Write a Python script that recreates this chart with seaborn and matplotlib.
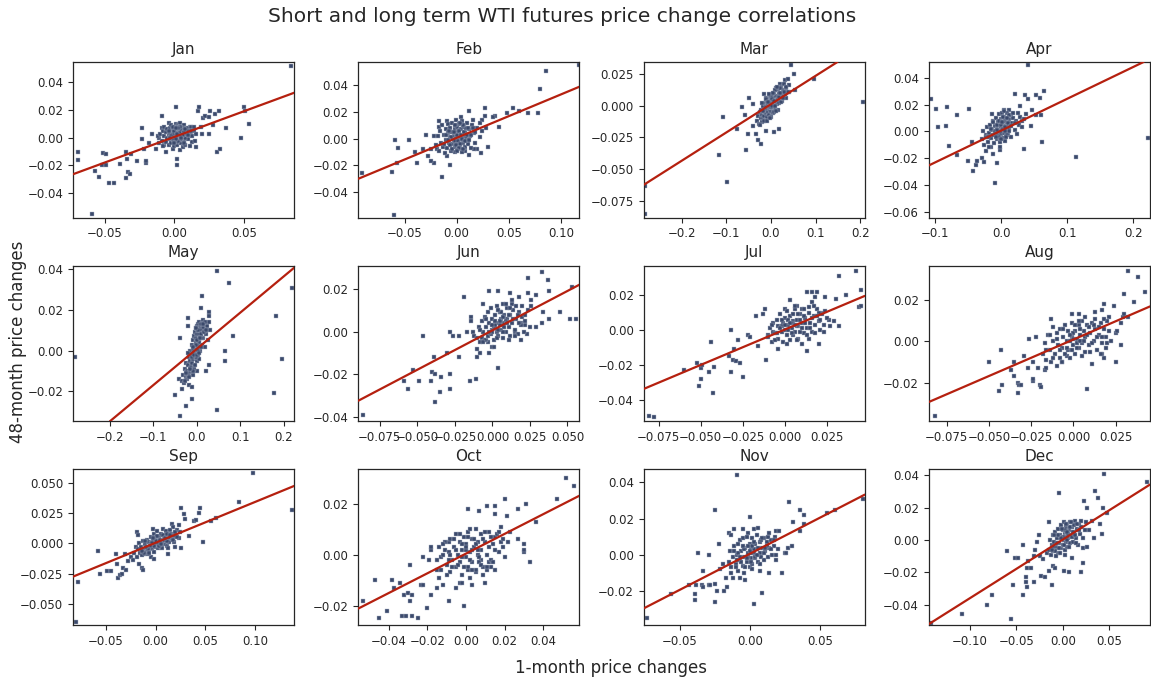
import matplotlib
matplotlib.use("Agg")
import matplotlib.pyplot as plt
import pandas as pd
import seaborn as sns

months = ["Jan", "Feb", "Mar", "Apr", "May", "Jun",
          "Jul", "Aug", "Sep", "Oct", "Nov", "Dec"]

# (1-month change, 48-month change) pairs, in thousandths (0.001)
jan_pts = [
    (84, 52), (-69, -10), (-69, -16), (-59, -55), (-57, -24), (-54, -28), (-51, -11), (-49, -12),
    (-52, -20), (-49, -20), (-47, -33), (-43, -33), (-39, -19), (-35, -29), (-33, -25), (-32, -26),
    (-35, -10), (-34, -15), (-31, -12), (-27, -17), (-23, 7), (-23, -1), (-22, -8), (-20, -18),
    (-20, -17), (-18, -4), (-16, 3), (-13, -8), (-11, 0), (-9, 16), (-9, 7), (-7, -5), (-6, -10),
    (-4, 11), (-1, -8), (1, 22), (2, -20), (2, -15), (4, -9), (8, -5), (11, 8), (13, 5), (16, -7),
    (17, 19), (18, 22), (21, 14), (22, 16), (25, 15), (25, 3), (26, 19), (28, 9), (29, 17),
    (31, -10), (32, 19), (33, -8), (37, 7), (48, 0), (50, 22), (51, 19), (54, 10), (19, 8), (20, 3),
    (13, -3), (12, 2),
    (-12, 1), (-11, -4), (-10, 3), (-9, -2), (-8, 5), (-8, -6), (-7, 1), (-7, 8), (-6, -3), (-6, 4),
    (-5, 0), (-5, 6), (-4, -5), (-4, 2), (-3, 7), (-3, -1), (-2, 4), (-2, -4), (-2, 9), (-1, 1),
    (-1, 6), (0, -2), (0, 3), (0, 8), (0, -6), (1, 0), (1, 5), (1, 10), (1, -3), (2, 2), (2, 7),
    (2, -1), (2, -5), (3, 4), (3, 0), (3, 9), (3, -3), (4, 6), (4, 1), (4, -2), (4, 11), (5, 3),
    (5, -4), (5, 8), (6, 0), (6, 5), (6, -7), (7, 2), (7, 9), (7, -2), (8, 4), (8, -5), (9, 1),
    (9, 7), (10, -1), (10, 5), (11, 3), (11, -6), (12, 8), (13, 1), (14, 5), (15, -2), (-3, 3),
    (1, 2), (3, 2), (5, 1), (-1, -1), (2, 5), (6, 3), (8, 0),
    (0, 1), (1, 4), (2, 0), (3, 6), (4, 2), (5, -1), (6, 7), (-1, 3), (-2, 1), (0, 5), (2, 8),
    (4, 4), (5, 6), (7, 4), (3, -2), (1, -1), (-3, 0), (-4, 5), (6, 2), (8, 6), (9, 3), (10, 2),
    (0, -4), (2, 3), (4, 8), (-1, 8), (7, -4), (3, 7), (5, 0), (1, 7), (12, 5), (14, 8), (16, 3),
]
feb_pts = [
    (117, 55), (86, 51), (80, 37), (78, 19), (68, 19), (60, 21), (54, 23), (48, 19), (41, 9),
    (37, 17), (35, 16), (30, -6), (28, 8), (27, 17), (27, 23), (24, 14), (23, -11), (20, -8),
    (17, -8), (12, 21), (12, -12), (8, -9), (4, 16), (-2, -10), (-6, -20), (-9, -13), (-14, -29),
    (-17, 13), (-19, -8), (-22, -18), (-25, -17), (-27, -13), (-25, -8), (-29, 3), (-32, -8),
    (-38, -18), (-40, -10), (-46, -1), (-56, -7), (-59, -1), (-57, -18), (-62, -25), (-60, -57),
    (-91, -26), (-22, 2), (-17, 9), (-9, 13), (16, 14), (22, 12),
    (-20, -5), (-18, 2), (-17, -9), (-16, 6), (-15, -3), (-14, 10), (-13, -6), (-12, 3), (-11, -11),
    (-10, 7), (-10, -1), (-9, -7), (-8, 4), (-8, 11), (-7, -3), (-6, 1), (-6, 8), (-5, -9), (-5, 5),
    (-4, -4), (-4, 12), (-3, 2), (-3, -1), (-2, 7), (-2, -6), (-1, 4), (-1, 14), (0, -3), (0, 1),
    (0, 9), (1, -8), (1, 5), (2, -1), (2, 11), (3, 3), (3, -5), (4, 7), (4, 0), (5, -10), (5, 13),
    (6, 2), (6, -3), (7, 9), (8, -6), (8, 5), (9, 1), (10, 12), (11, -4), (12, 7), (13, 2),
    (14, -7), (15, 10), (17, 4), (18, -3), (20, 8), (22, 1), (24, 6), (-1, 0), (1, 2), (3, 1), (-2, -2),
    (0, 3), (1, -2), (2, 6), (3, -4), (4, 3), (5, 0), (-1, -5), (-3, 5), (-5, 1), (-6, -5), (7, 5),
    (8, -2), (9, 8), (10, 3), (12, -1), (-8, -1), (-10, 3), (6, 10), (2, -7), (-2, 10), (14, 3),
    (16, 8), (11, 8), (-4, -8), (0, -9), (-12, -4), (18, 5), (6, -8), (-7, 6), (3, 12),
]
mar_pts = [
    (-282, -63), (-282, -85), (206, 3), (45, 32), (52, 25), (97, 21), (54, 12), (-115, -39),
    (-99, -60), (-108, -9), (-76, -18), (-56, -35), (-51, -22), (-58, -7), (-65, -1), (-48, 6),
    (-41, 1), (-39, -16), (-33, -22), (-29, -27), (-23, -30), (-11, -20), (8, -21), (18, -18),
    (31, 20), (38, 21), (20, 17), (12, 14), (35, 6), (41, 11), (-22, -7), (-18, -12), (-16, 9),
    (-30, -12), (-28, -8), (-26, -14), (-25, -5), (-23, -10), (-21, -3), (-20, -13), (-19, -7),
    (-18, 0), (-17, -10), (-16, -4), (-15, -8), (-14, 2), (-13, -5), (-12, -11), (-11, -1),
    (-10, -6), (-9, 3), (-8, -3), (-8, -9), (-7, 1), (-6, -5), (-5, 5), (-5, -2), (-4, -7), (-3, 2),
    (-2, -3), (-2, 7), (-1, 0), (0, -4), (0, 4), (1, 1), (2, -2), (2, 8), (3, 3), (4, -1), (5, 6),
    (6, 1), (7, 10), (8, 3), (9, -2), (10, 7), (11, 4), (12, 12), (13, 1), (14, 8), (15, 5),
    (17, 13), (18, 2), (19, 9), (21, 6), (22, 15), (24, 10), (26, 4), (28, 12), (30, 17), (32, 9),
    (35, 14), (38, 11), (40, 16), (-1, -1), (1, -1), (3, 0),
    (-20, 2), (-25, -15), (-10, 6), (-15, -12), (0, 8), (5, -6), (10, 12), (15, -3), (20, 14),
    (25, 8), (-5, 9), (0, -9), (8, -5), (12, -4), (18, 7), (22, 3), (28, 6), (33, 15), (-12, 5),
    (-8, -12), (5, 10), (-3, -10), (14, 15), (30, 11), (3, 5), (7, 4), (-6, 3), (10, 0), (20, 10),
    (-18, -4),
]
apr_pts = [
    (-107, 24), (-99, 17), (-96, 3), (-84, 4), (-82, 18), (-80, -11), (-67, 12), (-67, -18),
    (-49, 17), (-50, -22), (-44, -8), (-43, -30), (-39, -25), (-37, -22), (-29, -20), (-27, -23),
    (-24, -15), (-23, -3), (-14, 13), (-12, -17), (-10, -39), (-7, -24), (-2, -14), (4, 16),
    (11, 16), (20, 28), (28, 19), (31, 8), (35, -13), (36, 27), (40, 50), (41, 24), (45, 4),
    (46, 16), (52, 27), (58, 25), (61, -8), (65, 30), (60, 12), (53, 12), (113, -19), (222, -5),
    (-30, -6), (-28, 0), (-26, -10), (-24, -4), (-22, 3), (-20, -8), (-19, -1), (-17, 5), (-16, -12),
    (-15, -5), (-14, 1), (-13, 8), (-12, -3), (-11, -9), (-10, 4), (-9, -1), (-8, 10), (-7, -6),
    (-6, 2), (-5, 7), (-5, -3), (-4, 13), (-3, 0), (-2, 5), (-2, -8), (-1, 2), (0, 9), (0, -2),
    (1, 4), (1, 14), (2, -5), (2, 1), (3, 7), (4, -1), (4, 11), (5, 3), (6, -7), (6, 8), (7, 1),
    (8, 14), (9, 5), (10, -3), (11, 9), (12, 2), (14, 12), (15, -4), (16, 6), (18, 10), (20, 1),
    (22, 8), (24, -2), (26, 5), (28, 11), (32, 3), (35, 9), (38, 13), (0, 3), (2, 4), (-1, 0),
    (-10, 0), (-6, 5), (-3, -4), (0, 5), (3, 2), (5, 9), (8, -2), (10, 6), (12, 12), (-8, -4),
    (-4, 8), (0, -6), (2, 11), (6, 3), (9, 10), (14, 4), (17, 14), (-15, 2), (-20, -4), (-12, 7),
    (4, 15), (7, -4), (11, 0), (20, 6), (-2, -12), (-18, -12), (25, 14), (5, 0), (1, 7), (-7, 1),
]
may_pts = [
    (-281, -3), (219, 31), (196, -4), (182, 17), (178, -21), (84, 7), (74, 33), (64, 0), (64, -5),
    (47, 39), (47, -29), (28, -7), (20, -10), (12, 27), (10, 21), (28, 19), (29, 17), (-21, 16),
    (-21, 12), (-38, 6), (-51, -22), (-41, -14), (-38, -32), (-26, -27), (-12, -24), (-34, -19),
    (-18, -17), (-11, -18), (1, -10),
    (-35, -15), (-32, -12), (-30, -16), (-28, -9), (-26, -13), (-25, -6), (-23, -10), (-22, -14),
    (-20, -7), (-19, -3), (-18, -11), (-16, -5), (-15, 0), (-14, -8), (-13, -2), (-12, 3),
    (-11, -6), (-10, 1), (-9, -4), (-8, 5), (-7, -1), (-6, 7), (-5, 2), (-5, -3), (-4, 9), (-3, 4),
    (-2, -1), (-2, 11), (-1, 6), (0, 1), (0, 12), (1, 8), (2, 3), (2, 13), (3, -2), (4, 10), (5, 5),
    (6, 14), (7, 0), (8, 11), (9, 7), (10, 13), (11, 3), (12, 9), (14, 15), (15, 6), (17, 11),
    (18, 2), (20, 13), (22, 8), (24, 12), (26, 5), (28, 14), (30, 10), (-10, -12), (-6, -9),
    (0, -5), (4, -4), (-20, -1),
    (-8, -10), (-4, -7), (-1, -3), (3, 0), (6, 4), (9, 2), (12, 6), (15, 11), (18, 14), (-12, -3),
    (-15, -9), (-20, -12), (-3, 3), (1, 5), (4, 8), (7, 10), (10, 8), (13, 13), (-6, -2), (-9, 2),
    (0, -2), (5, -1), (8, 6), (16, 9), (21, 10), (-17, -13), (-24, -11), (-28, -15), (2, 10), (-1, 11),
]
jun_pts = [
    (-86, -39), (-59, -23), (-56, -27), (-53, -18), (-49, -23), (-46, -2), (-41, -23), (-40, -19),
    (-39, -12), (-38, -20), (-38, -33), (-35, -28), (-34, -21), (-30, -10), (-28, 0), (-28, -20),
    (-28, -27), (-26, -2), (-22, -2), (-22, -12), (-19, 16), (-17, 0), (-15, -23), (-14, 7),
    (-14, 5), (-13, 0), (-12, -2), (-11, -22), (-10, -12), (-6, 13), (-2, 19), (0, 1), (4, 19),
    (4, -17), (5, 9), (12, 18), (13, 13), (15, 0), (18, 16), (19, 4), (22, 3), (23, -1), (24, 25),
    (24, 18), (26, 15), (29, 17), (29, 2), (33, 28), (33, 4), (34, 9), (37, 24), (38, 19), (38, 6),
    (45, 9), (52, 6), (56, 6), (53, 21), (-3, -5), (-2, -10), (0, -7), (-4, -4), (-7, -3),
    (-8, -10), (-10, -8),
    (-10, -3), (-9, 2), (-8, -5), (-7, 5), (-6, 0), (-5, -4), (-5, 7), (-4, 2), (-3, -2), (-3, 9),
    (-2, 4), (-1, -1), (-1, 11), (0, 6), (1, 2), (1, -4), (2, 8), (3, 0), (3, 12), (4, 4), (4, -2),
    (5, 9), (6, 1), (6, 6), (7, -3), (7, 13), (8, 4), (8, 8), (9, 0), (10, 6), (10, 11), (11, 2),
    (12, -2), (12, 8), (13, 4), (14, 10), (15, 1), (16, 6), (17, -1), (18, 9), (19, 3), (20, 7),
    (21, 0), (22, 5), (24, 10), (25, 2), (2, 3), (5, 3), (9, 5), (0, 0),
    (0, 3), (2, 5), (4, 1), (6, 9), (8, 2), (10, 4), (12, 11), (14, 6), (16, 12), (18, 4), (20, 12),
    (3, -3), (7, 0), (11, -4), (15, -2), (-4, 6), (-6, -5), (-2, 0), (9, 13), (13, 15), (5, 5),
    (7, 7), (1, -7), (-8, 1), (17, 8), (22, 8), (26, 12), (19, -4), (11, 8), (4, 10),
]
jul_pts = [
    (-81, -49), (-78, -50), (-60, -23), (-52, -19), (-51, -32), (-50, -28), (-50, -22), (-49, -20),
    (-45, -24), (-44, -7), (-43, -36), (-42, -21), (-33, -15), (-32, 0), (-32, -24), (-31, -17),
    (-30, -11), (-29, -18), (-28, -6), (-27, -19), (-25, -27), (-22, -3), (-21, -4), (-17, 8),
    (-16, -9), (-13, 9), (-12, 12), (-11, -17), (-10, -3), (-7, -1), (-4, -11), (0, 12), (3, 17),
    (7, 14), (10, 12), (13, 22), (16, 22), (16, 16), (18, 19), (19, 22), (20, -8), (22, 10),
    (24, 19), (26, 6), (27, 2), (29, 5), (30, 18), (32, 2), (32, 31), (36, 20), (42, 34), (44, 13),
    (45, 14), (45, 23), (13, -12), (10, -8),
    (-10, -4), (-9, 1), (-8, -7), (-7, 4), (-6, -2), (-5, 6), (-4, -5), (-4, 2), (-3, 9), (-2, -1),
    (-1, 4), (-1, -7), (0, 7), (0, 0), (1, -3), (1, 11), (2, 3), (3, -6), (3, 8), (4, 1), (5, 5),
    (5, -3), (6, 12), (6, -1), (7, 6), (8, 2), (8, -5), (9, 9), (10, 4), (11, -2), (11, 12), (12, 7),
    (13, 1), (14, -5), (14, 10), (15, 4), (16, -1), (17, 8), (18, 3), (19, 12), (20, 5), (21, 0),
    (22, 9), (23, 3), (25, 7), (2, 0), (4, 4), (7, 2), (-2, 2), (9, -1),
    (0, 3), (2, 6), (4, -2), (6, 3), (8, 9), (10, 1), (12, 4), (14, 13), (16, 7), (18, -2), (20, 10),
    (-3, 1), (-6, -6), (-8, 3), (1, -8), (5, 9), (9, 6), (13, -3), (17, 14), (21, 6), (24, 11),
    (3, 4), (7, -6), (11, 8), (-2, 6), (15, 1), (19, 8), (23, -1), (6, 14), (-5, -2),
]
aug_pts = [
    (-82, -36), (-50, -10), (-44, -24), (-43, -4), (-42, -21), (-37, -14), (-35, -10), (-35, -17),
    (-33, -20), (-33, -25), (-32, -21), (-31, -21), (-29, -7), (-27, -13), (-26, 1), (-24, -19),
    (-24, -18), (-24, -10), (-22, 2), (-21, -13), (-20, -21), (-19, -22), (-17, -14), (-16, -13),
    (-13, 11), (-12, 7), (-10, -12), (-7, -10), (-4, -7), (-1, 13), (3, 13), (8, -23), (11, -11),
    (13, 14), (17, 15), (18, 18), (17, -6), (18, -8), (20, -1), (21, 12), (24, 17), (25, -10),
    (25, 4), (26, 5), (28, -2), (28, 9), (29, 12), (30, 23), (30, 13), (32, 34), (32, 12), (36, 19),
    (38, 31), (42, 24),
    (-18, -6), (-17, -1), (-16, -9), (-15, 3), (-14, -4), (-13, -10), (-12, 0), (-11, -6), (-10, 4),
    (-9, -2), (-8, -8), (-8, 6), (-7, -3), (-6, 2), (-5, -6), (-5, 8), (-4, 0), (-3, -4), (-3, 5),
    (-2, -8), (-1, 2), (-1, 9), (0, -2), (1, 5), (1, -6), (2, 1), (3, 8), (3, -3), (4, 3), (5, -1),
    (5, 10), (6, 5), (7, -5), (7, 2), (8, 8), (9, -2), (10, 4), (11, 9), (12, 0), (13, 6), (14, -4),
    (15, 3), (16, 9), (17, -1), (18, 6), (19, 2), (20, 10), (21, 5), (22, 0), (0, 1), (2, -1),
    (-2, 0), (4, 0),
    (0, 4), (2, -3), (4, 6), (6, 0), (8, 3), (10, -5), (12, 8), (14, 2), (16, -6), (18, 11), (-2, 3),
    (-4, -3), (-6, 6), (-8, -4), (-10, 1), (-12, -8), (-14, 3), (-16, -4), (3, 10), (5, -7), (9, 7),
    (11, -1), (13, 11), (15, 7), (17, 2), (19, -3), (-7, -10), (-1, -4), (1, 8), (7, 12),
]
sep_pts = [
    (-80, -65), (-78, -32), (-58, -6), (-56, -25), (-49, -23), (-45, -23), (-40, -9), (-39, -17),
    (-38, -29), (-36, -26), (-34, -25), (-33, -20), (-31, -9), (-30, -22), (-28, -15), (-25, -11),
    (-23, -14), (-19, 9), (-18, 7), (-17, -17), (-14, -20), (-13, -22), (-12, -9), (-5, -11),
    (-3, 12), (-2, -13), (7, 12), (13, -9), (17, 16), (20, -3), (26, 29), (26, -4), (29, 24),
    (30, 20), (34, 6), (39, 18), (41, 19), (44, 25), (45, 29), (48, 1), (56, 18), (61, 21),
    (84, 34), (98, 58), (137, 27), (24, 15), (18, 13),
    (-22, -8), (-20, -3), (-19, -11), (-18, -5), (-17, 0), (-16, -8), (-15, -3), (-14, -10),
    (-13, 2), (-12, -5), (-11, -1), (-10, -7), (-9, 3), (-8, -3), (-8, -9), (-7, 1), (-6, -5),
    (-5, 5), (-5, 0), (-4, -4), (-3, 2), (-2, -7), (-2, 8), (-1, -1), (0, 4), (0, -3), (1, 1),
    (1, 10), (2, -4), (3, 5), (3, 0), (4, -2), (5, 8), (5, 3), (6, -4), (7, 1), (8, 6), (9, -1),
    (10, 10), (11, 3), (12, -2), (13, 7), (14, 1), (15, 11), (16, 4), (18, 8), (19, 1), (20, 6),
    (22, 11), (24, 4), (25, 9), (0, 0), (2, 2), (-3, -1),
    (0, 2), (2, -1), (4, 3), (6, 1), (8, 3), (10, 5), (12, 2), (14, 5), (16, 8), (-2, -2), (-4, 0),
    (-6, -2), (-8, -5), (-10, -3), (-12, -8), (-14, -6), (1, 6), (3, -2), (5, -1), (7, 7), (9, 4),
    (11, 8), (13, -4), (15, 7), (-3, 4), (-7, -8), (-11, 2), (18, 3), (20, 9), (22, 5),
]
oct_pts = [
    (-53, -18), (-47, -10), (-45, -25), (-41, -22), (-38, -10), (-37, -13), (-34, -11), (-33, -24),
    (-32, -16), (-31, -24), (-30, -15), (-29, -4), (-29, -18), (-28, -24), (-28, -16), (-25, -25),
    (-23, -12), (-22, -12), (-22, -1), (-20, -21), (-19, -2), (-18, -16), (-18, 2), (-18, 3),
    (-15, -6), (-15, -13), (-14, -9), (-13, -1), (-12, -12), (-11, 2), (-9, -18), (-9, 5),
    (-5, -13), (-3, -11), (-2, -11), (-1, -20), (1, 18), (1, -6), (2, -9), (3, -12), (5, -7),
    (7, 17), (8, -2), (9, -8), (10, -11), (11, 19), (11, -6), (12, -3), (13, -5), (15, 19),
    (15, 16), (15, 7), (18, 11), (19, 3), (20, 22), (21, 15), (22, 5), (23, 9), (27, 6), (27, 18),
    (30, 4), (30, 1), (30, 2), (31, 20), (33, -3), (36, 13), (47, 22), (52, 30), (56, 27),
    (-15, -2), (-14, 3), (-13, -6), (-12, 0), (-11, 5), (-10, -4), (-9, 1), (-8, -7), (-8, 6),
    (-7, -2), (-6, 3), (-5, -5), (-5, 8), (-4, 0), (-3, -3), (-3, 5), (-2, -8), (-2, 2), (-1, 7),
    (0, -1), (0, 4), (1, -5), (1, 9), (2, 1), (3, 6), (3, -3), (4, 3), (5, -6), (5, 10), (6, 0),
    (6, 5), (7, -3), (8, 8), (8, 2), (9, -5), (10, 5), (11, 0), (12, 9), (13, -2), (14, 4),
    (15, -6), (16, 8), (17, 1), (18, 5), (20, -1), (0, 2), (3, 2), (-2, -1),
    (0, 3), (2, -2), (4, 6), (6, 2), (8, -4), (10, 9), (12, 3), (-2, 4), (-4, -4), (-6, 6), (-8, 0),
    (-10, -8), (1, 7), (3, -6), (5, 4), (7, -1), (9, 6), (11, -5), (13, 7), (15, 2), (-1, -5),
    (-3, 8), (-5, 2), (-7, -5), (-12, 4), (17, 9), (19, 6), (14, -3), (2, 10), (-9, -2),
]
nov_pts = [
    (-73, -35), (-56, -22), (-43, -17), (-39, -22), (-39, -25), (-38, -17), (-37, 1), (-34, -17),
    (-33, -18), (-33, -9), (-29, -17), (-29, 0), (-28, -17), (-25, -26), (-25, 25), (-25, -16),
    (-23, -20), (-22, 6), (-21, -8), (-19, -5), (-18, -20), (-17, -13), (-16, -18), (-15, 12),
    (-13, 11), (-13, -10), (-12, -13), (-11, 14), (-9, 44), (-7, 8), (-7, -13), (-5, 14),
    (-4, -10), (-3, -14), (-1, 12), (0, 21), (3, -27), (3, 14), (6, 15), (7, -9), (9, -21),
    (14, -10), (19, 13), (19, -3), (21, 13), (23, -10), (25, 1), (26, 1), (27, 4), (30, 5),
    (31, 18), (28, 29), (36, 25), (36, 13), (39, 22), (39, 17), (55, 23), (61, 25), (81, 31),
    (-15, -4), (-14, 2), (-13, -7), (-12, -1), (-11, 5), (-10, -5), (-9, 0), (-8, -9), (-8, 6),
    (-7, -3), (-6, 2), (-5, -6), (-5, 9), (-4, -1), (-3, 4), (-2, -4), (-2, 10), (-1, 1), (0, -7),
    (0, 6), (1, -2), (1, 3), (2, 9), (2, -5), (3, 1), (4, 6), (4, -2), (5, 11), (5, 3), (6, -4),
    (7, 1), (7, 7), (8, -1), (9, 4), (10, 9), (10, -3), (11, 2), (12, 7), (13, -1), (14, 4),
    (15, 8), (16, 0), (17, 5), (18, 10), (20, 3), (1, 1), (3, 3), (-1, -1),
    (0, 2), (2, 5), (4, -1), (6, 4), (8, 8), (10, 1), (12, 5), (-2, -2), (-4, 3), (-6, -4), (-8, 1),
    (-10, -7), (1, -4), (3, 7), (5, 0), (7, -5), (9, 9), (11, 4), (13, 10), (15, 3), (-1, 5),
    (-3, -7), (-5, 5), (-7, -1), (-11, 2), (17, 8), (19, 0), (14, 12), (2, -8), (-9, -3),
]
dec_pts = [
    (-142, -51), (-108, -46), (-81, -40), (-76, -34), (-60, -7), (-56, -49), (-53, -28),
    (-51, -11), (-48, -11), (-43, -3), (-43, -34), (-40, -23), (-40, -26), (-38, -29), (-38, -17),
    (-37, -13), (-34, -17), (-31, -26), (-31, -10), (-30, -6), (-28, -1), (-26, 3), (-25, -10),
    (-23, -22), (-21, -12), (-19, -23), (-17, -8), (-15, 11), (-15, -19), (-12, -28), (-10, -16),
    (-8, -17), (-4, 29), (1, -19), (7, -20), (10, -11), (19, -20), (22, -14), (22, -5), (23, 24),
    (26, 20), (26, -4), (28, 6), (31, 12), (33, 1), (35, 30), (38, 26), (40, 10), (42, 4),
    (43, 20), (44, 41), (47, 17), (90, 36),
    (-15, -6), (-14, 0), (-13, -9), (-12, -3), (-11, 3), (-10, -7), (-9, -1), (-8, 5), (-7, -4),
    (-6, 1), (-5, -8), (-5, 7), (-4, -2), (-3, 3), (-2, -5), (-2, 9), (-1, 1), (0, -3), (0, 6),
    (1, 11), (1, 0), (2, -6), (2, 4), (3, 8), (3, -1), (4, 3), (5, -4), (5, 10), (6, 1), (7, 6),
    (8, -2), (8, 11), (9, 3), (10, 8), (11, -1), (12, 5), (13, 12), (14, 1), (15, 7), (16, -3),
    (17, 10), (18, 4), (20, 8), (22, 1), (24, 6), (25, 11), (2, 2), (4, 5), (0, 1),
    (0, 2), (2, 6), (4, 0), (6, 4), (8, 8), (10, 2), (12, 9), (-2, 1), (-4, -5), (-6, -2), (-8, -7),
    (-10, -4), (1, -3), (3, 10), (5, 5), (7, -4), (9, 11), (11, 5), (13, 3), (15, 10), (-1, 7),
    (-3, -8), (-5, 3), (-7, -10), (-12, -6), (17, 6), (19, 12), (14, -2), (2, -9), (-9, 3),
]

# least-squares fit of 48-month on 1-month changes, per month
fit_slopes = [0.370, 0.325, 0.223, 0.238, 0.178, 0.368,
              0.406, 0.354, 0.336, 0.387, 0.399, 0.363]
fit_intercepts = [0.0006, 0.0007, 0.0012, 0.0007, 0.0009, 0.0006,
                  0.0003, 0.0009, 0.0004, 0.0004, 0.0005, 0.0003]

# shown value ranges of each panel
x_ranges = [(-0.0728, 0.0862), (-0.0944, 0.1178), (-0.285, 0.210), (-0.110, 0.2253),
            (-0.285, 0.2237), (-0.0894, 0.058), (-0.084, 0.0473), (-0.0855, 0.0452),
            (-0.0831, 0.1394), (-0.0557, 0.0587), (-0.0758, 0.0821), (-0.1439, 0.0936)]
y_ranges = [(-0.0576, 0.0547), (-0.059, 0.0575), (-0.088, 0.0344), (-0.0645, 0.052),
            (-0.0347, 0.0417), (-0.0419, 0.0308), (-0.0523, 0.0368), (-0.0387, 0.0366),
            (-0.0674, 0.0608), (-0.0276, 0.0334), (-0.0389, 0.0472), (-0.0525, 0.0436)]

month_points = [jan_pts, feb_pts, mar_pts, apr_pts, may_pts, jun_pts,
                jul_pts, aug_pts, sep_pts, oct_pts, nov_pts, dec_pts]

POINT_COLOR = "#3b4a6c"
LINE_COLOR = "#b5200f"
TEXT_COLOR = "#262626"

sns.set_style("ticks")
plt.rcParams["font.family"] = ["DejaVu Sans"]

fig, axes = plt.subplots(3, 4, figsize=(11.51, 6.83), dpi=100)
fig.subplots_adjust(left=0.0634, right=0.9991, top=0.9092, bottom=0.0849,
                    wspace=0.29, hspace=0.31)

for ax, name, pts, m, b, xr, yr in zip(axes.flat, months, month_points, fit_slopes,
                                       fit_intercepts, x_ranges, y_ranges):
    df = pd.DataFrame(pts, columns=["short", "long"]) / 1000.0
    sns.scatterplot(data=df, x="short", y="long", ax=ax, color=POINT_COLOR,
                    marker="s", s=12, edgecolor="#aab3c6", linewidth=0.3, zorder=2)
    ax.set_xlim(*xr)
    ax.set_ylim(*yr)
    ax.axline((0.0, b), slope=m, color=LINE_COLOR, linewidth=1.6, zorder=3)
    ax.set_title(name, fontsize=11, color=TEXT_COLOR, pad=6)
    ax.set_xlabel("")
    ax.set_ylabel("")
    ax.tick_params(labelsize=8.5, length=3.5, width=0.8, colors=TEXT_COLOR)
    for sp in ax.spines.values():
        sp.set_visible(True)
        sp.set_color(TEXT_COLOR)
        sp.set_linewidth(0.9)

fig.text(562 / 1151, 1 - 16 / 683, "Short and long term WTI futures price change correlations",
         ha="center", va="center", fontsize=14.5, color=TEXT_COLOR)
fig.text(611 / 1151, 1 - 668 / 683, "1-month price changes",
         ha="center", va="center", fontsize=12, color=TEXT_COLOR)
fig.text(18 / 1151, 1 - 342 / 683, "48-month price changes", rotation=90,
         ha="center", va="center", fontsize=12, color=TEXT_COLOR)

fig.savefig("out.png", dpi=100)
